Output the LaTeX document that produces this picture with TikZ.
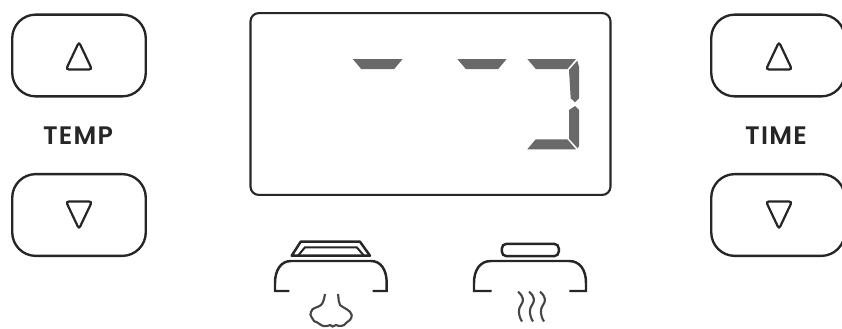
\documentclass[tikz,border=0pt]{standalone}
\usepackage{fontspec}
\setmainfont{Poppins SemiBold}[LetterSpace=5]
\usetikzlibrary{positioning}
\definecolor{panelblack}{RGB}{38,38,38}
\definecolor{seggray}{RGB}{105,105,105}
\definecolor{icongray}{RGB}{70,70,70}
\tikzset{
  btnbox/.style={rectangle, draw=panelblack, rounded corners=20pt, line width=2pt, minimum width=113.5pt, minimum height=69.5pt, inner sep=0pt},
  btnlabel/.style={font=\fontsize{21.5pt}{24pt}\selectfont, text=panelblack, inner sep=0pt},
  tri/.style={draw=panelblack, line width=1.9pt, rounded corners=2.5pt},
  seg/.style={fill=seggray, draw=none},
  dome/.style={draw=panelblack, line width=2.1pt},
  vapor/.style={draw=icongray, line width=1.8pt}
}
\begin{document}
\begin{tikzpicture}[x=0.85pt, y=-0.85pt]
\useasboundingbox (0,0) rectangle (842,328);
% Buttons
\node[btnbox] (tempup) at (79,55.5) {};
\node[btnbox] (tempdown) at (79,215) {};
\node[btnbox] (timeup) at (778,55.5) {};
\node[btnbox] (timedown) at (778,215) {};
\node[btnlabel] (templabel) at (78,136) {TEMP};
\node[btnlabel] (timelabel) at (776,136) {TIME};
% Arrows on buttons
\foreach \x in {79,779} {
  \draw[tri] (\x,42) -- (\x+13,69.5) -- (\x-13,69.5) -- cycle;
  \draw[tri] (\x,229) -- (\x+13,201.5) -- (\x-13,201.5) -- cycle;
}
% Display
\node[rectangle, draw=panelblack, rounded corners=7pt, line width=1.8pt, minimum width=306pt, minimum height=154.5pt, inner sep=0pt] (display) at (430.5,104) {};
% Top segments
\foreach \x/\w in {352.7/50,457.3/49.4,527.3/48.7} {
  \fill[seg] (\x,59) -- ++(\w,0) -- ++(-8.5,10) -- ++(-\w+17,0) -- cycle;
}
% Digit right side and bottom
\fill[seg] (577.3,60.7) -- (579,66.7) -- (579,98.3) -- (575,102.3) -- (570.7,98.3) -- (569,70) -- cycle;
\fill[seg] (575,106) -- (579,110) -- (579,146) -- (577.7,148.3) -- (569,138.7) -- (569,110) -- cycle;
\fill[seg] (535.7,139.3) -- (567.3,139.3) -- (576,149.3) -- (527.3,149.3) -- cycle;
% Left icon
\draw[dome] (289.3,291) -- (275,291) -- (275,283) .. controls (275,270) and (281,261) .. (291,261) -- (371,261) .. controls (381,261) and (386.7,270) .. (386.7,283) -- (386.7,291) -- (372.7,291);
\draw[dome, line join=round] (291.7,255.7) -- (300.7,241.7) -- (360,241.7) -- (370,255.7) -- cycle;
\draw[dome, line width=1.7pt] (298,255.7) -- (305,247.3) -- (356.7,247.3) -- (364,255.7);
% Nose
\draw[vapor] (325,294) .. controls (324,300) and (323,303) .. (321,305) .. controls (318,308) and (312,307) .. (311,312) .. controls (309,316) and (313,318) .. (314,321) .. controls (316,323) and (319,322) .. (321,325) .. controls (324,327) and (328,326) .. (330,325) .. controls (331,327) and (334,327) .. (336,325) .. controls (340,327) and (344,326) .. (346,323) .. controls (348,321) and (352,320) .. (351.7,315) .. controls (351,310) and (343,308) .. (340,305) .. controls (338,302) and (339,299) .. (338,294);
% Right icon
\draw[dome] (491.7,291) -- (474,291) -- (474,283) .. controls (474,270) and (480,261) .. (491,261) -- (569,261) .. controls (580,261) and (586,270) .. (586,283) -- (586,291) -- (569.3,291);
\node[rectangle, draw=panelblack, rounded corners=4pt, line width=2.1pt, minimum width=48.5pt, minimum height=10.5pt, inner sep=0pt] (pill) at (530.3,250) {};
% Steam
\foreach \x in {518,529,540} {
  \draw[vapor] (\x,291.5) .. controls (\x+6,297) and (\x+6,301) .. (\x+3,305) .. controls (\x,309) and (\x,315) .. (\x+4,321.5);
}
\end{tikzpicture}
\end{document}
